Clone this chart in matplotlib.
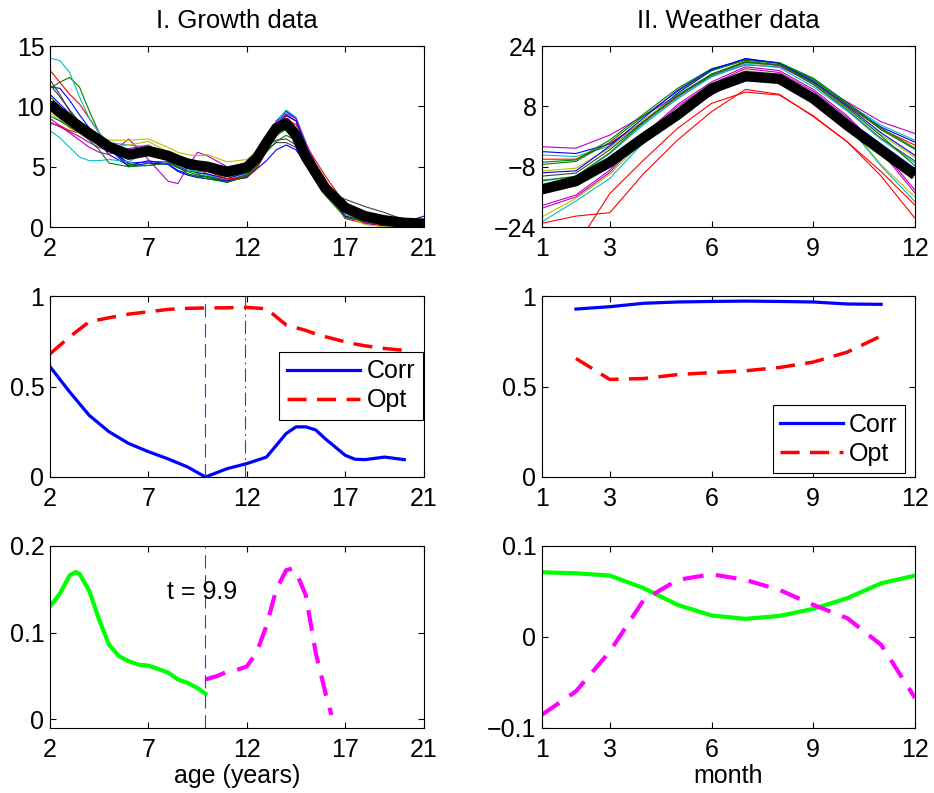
import matplotlib
matplotlib.use('Agg')
import matplotlib.pyplot as plt

plt.rcParams['font.family'] = ['Liberation Sans', 'DejaVu Sans']
plt.rcParams['font.size'] = 18

# ---------------- Growth data (velocity curves) ----------------
ages = [2, 2.5, 3, 3.5, 4, 4.5, 5, 6, 7, 8, 8.5, 9, 9.5, 10, 11, 12, 12.5, 13, 13.5, 14,
        14.5, 15, 15.5, 16, 17, 18, 19, 20, 21]
growth_mean = [10.2, 9.5, 8.9, 8.3, 7.75, 7.2, 6.65, 6.0, 6.3, 5.9, 5.55, 5.25, 5.1, 5.0, 4.55,
               4.95, 5.7, 7.0, 8.2, 8.6, 7.6, 5.8, 4.5, 3.2, 1.6, 0.9, 0.55, 0.35, 0.28]
growth_01 = [11.6, 11.5, 10.5, 9.3, 8.2, 7.0, 6.0, 5.1, 5.5, 5.2, 4.7, 4.4, 4.2, 4.2, 3.8, 4.2, 4.8, 5.5, 6.4, 6.8, 6.4, 5.2, 4.0, 2.8, 1.2, 0.6, 0.4, 0.4, 0.9]
growth_02 = [11.5, 12.0, 12.4, 11.6, 9.6, 7.8, 6.6, 5.2, 5.1, 5.3, 4.9, 4.6, 4.3, 4.2, 3.9, 4.3, 5.2, 6.2, 7.1, 7.6, 7.2, 5.6, 4.2, 2.8, 1.0, 0.5, 0.3, 0.2, 0.2]
growth_03 = [13.0, 12.0, 11.0, 10.2, 9.0, 7.8, 6.6, 6.2, 6.3, 6.0, 5.5, 5.3, 4.8, 4.4, 3.7, 4.3, 5.2, 6.6, 8.2, 9.2, 8.8, 6.8, 5.5, 4.2, 1.9, 1.0, 0.6, 0.4, 0.3]
growth_04 = [14.0, 13.8, 12.8, 10.8, 9.0, 7.8, 7.0, 6.8, 6.6, 5.8, 5.4, 5.0, 4.5, 4.3, 4.0, 4.6, 5.6, 7.0, 8.6, 9.6, 9.0, 6.8, 4.8, 3.0, 1.0, 0.4, 0.2, 0.1, 0.1]
growth_05 = [9.0, 8.4, 7.8, 7.2, 6.6, 6.2, 6.0, 7.3, 5.6, 3.8, 3.6, 5.0, 6.2, 5.9, 5.0, 4.6, 5.2, 6.4, 7.8, 8.6, 8.2, 6.5, 4.8, 3.4, 1.4, 0.6, 0.3, 0.2, 0.2]
growth_06 = [9.5, 8.8, 8.3, 8.0, 7.8, 7.5, 7.2, 7.2, 7.3, 6.6, 6.2, 6.0, 5.9, 6.0, 5.4, 5.6, 6.3, 7.2, 8.0, 8.0, 7.4, 5.8, 4.2, 2.8, 1.0, 0.4, 0.1, 0.0, 0.0]
growth_07 = [12.2, 11.0, 9.6, 8.5, 7.8, 7.2, 6.6, 6.2, 6.4, 5.9, 5.6, 5.5, 5.3, 5.2, 5.0, 5.3, 6.0, 6.8, 7.2, 7.3, 6.8, 5.4, 4.0, 3.0, 2.3, 1.7, 1.2, 0.6, 0.3]
growth_08 = [11.0, 10.2, 9.4, 8.6, 7.8, 7.0, 6.4, 5.3, 5.4, 5.4, 5.0, 4.7, 4.5, 4.4, 4.0, 4.5, 5.5, 7.0, 8.8, 9.6, 9.0, 6.9, 4.8, 3.0, 0.9, 0.3, 0.1, 0.0, 0.0]
growth_09 = [10.8, 10.0, 9.4, 8.8, 8.2, 7.4, 6.7, 6.3, 6.6, 5.7, 5.2, 4.9, 4.4, 4.1, 3.8, 4.4, 5.4, 6.8, 7.8, 8.1, 7.5, 5.6, 4.0, 2.6, 0.8, 0.4, 0.3, 0.3, 0.3]
growth_10 = [8.6, 8.4, 8.0, 7.8, 7.4, 7.0, 6.6, 6.1, 6.6, 6.0, 5.4, 5.1, 4.8, 4.6, 4.0, 4.1, 4.8, 6.3, 8.0, 8.9, 8.5, 6.4, 4.6, 3.2, 0.7, 0.3, 0.2, 0.2, 0.3]
growth_11 = [8.0, 7.4, 6.6, 5.8, 5.5, 5.5, 5.6, 5.4, 6.3, 5.7, 5.3, 4.7, 4.6, 4.6, 4.6, 4.9, 5.7, 7.1, 8.7, 9.7, 9.1, 7.0, 5.0, 3.3, 1.0, 0.6, 0.4, 0.3, 0.3]
growth_12 = [8.7, 8.3, 7.9, 7.5, 7.0, 6.6, 6.3, 6.5, 6.8, 5.8, 5.2, 4.9, 4.9, 5.0, 4.6, 5.0, 5.9, 7.2, 8.6, 9.4, 9.0, 7.0, 5.2, 3.6, 1.2, 0.4, 0.2, 0.3, 0.4]
growth_13 = [10.0, 9.0, 8.2, 7.8, 7.5, 7.0, 6.6, 6.8, 7.1, 6.2, 5.8, 5.5, 5.3, 5.1, 4.9, 5.2, 6.1, 7.3, 8.3, 8.8, 8.3, 6.2, 4.5, 3.0, 1.0, 0.2, 0.0, 0.0, 0.0]
growth_14 = [11.8, 10.8, 9.7, 8.7, 7.8, 7.0, 6.4, 6.0, 6.2, 5.9, 5.6, 5.4, 5.2, 5.1, 4.7, 4.9, 5.6, 6.4, 7.0, 7.0, 6.6, 5.2, 4.0, 2.8, 1.3, 0.9, 0.6, 0.3, 0.2]
growth_15 = [10.5, 9.8, 9.0, 8.4, 7.6, 7.0, 6.5, 5.0, 5.3, 5.2, 4.6, 4.3, 4.1, 4.0, 3.8, 4.1, 5.0, 6.7, 8.4, 9.3, 8.8, 6.7, 4.9, 3.2, 0.9, 0.5, 0.3, 0.2, 0.2]
growth_16 = [9.2, 8.8, 8.3, 7.8, 7.2, 6.4, 5.3, 5.0, 5.1, 5.3, 5.0, 4.4, 4.2, 4.0, 3.7, 4.2, 5.0, 6.4, 7.6, 8.1, 7.8, 5.8, 4.2, 2.8, 0.8, 0.5, 0.3, 0.2, 0.2]
growth_curves = [growth_01, growth_02, growth_03, growth_04, growth_05, growth_06, growth_07, growth_08,
                 growth_09, growth_10, growth_11, growth_12, growth_13, growth_14, growth_15, growth_16]

# ---------------- Weather data (monthly temperatures) ----------------
months = [1, 2, 3, 4, 5, 6, 7, 8, 9, 10, 11, 12]
weather_mean = [-14.0, -11.8, -6.8, -0.3, 5.8, 12.7, 16.0, 15.3, 10.1, 3.0, -3.6, -10.2]
weather_01 = [-2.7, -3.1, 0.4, 5.5, 11.0, 16.0, 19.0, 18.5, 14.5, 9.2, 3.9, 0.8]
weather_02 = [-4.0, -4.5, -2.0, 4.0, 11.5, 17.5, 20.7, 19.5, 15.0, 8.5, 2.5, -1.5]
weather_03 = [-4.9, -5.3, -2.5, 3.5, 10.0, 16.0, 19.5, 19.0, 14.8, 8.8, 3.0, -1.0]
weather_04 = [-6.0, -6.0, -1.8, 4.0, 10.5, 16.5, 19.8, 18.9, 14.5, 8.2, 2.0, -2.3]
weather_05 = [-6.8, -6.2, -0.9, 6.0, 12.8, 18.0, 20.4, 19.6, 15.5, 9.0, 2.2, -3.1]
weather_06 = [-7.4, -6.6, -1.5, 5.5, 12.0, 17.5, 20.2, 19.5, 15.2, 8.6, 1.8, -3.4]
weather_07 = [-9.1, -8.4, -3.0, 4.5, 11.0, 16.5, 19.6, 18.8, 14.0, 7.4, 0.5, -5.5]
weather_08 = [-9.6, -9.1, -2.5, 5.0, 12.3, 17.8, 20.6, 19.4, 14.6, 8.0, 1.0, -5.0]
weather_09 = [-10.5, -9.7, -3.5, 4.0, 10.8, 16.3, 19.7, 18.9, 13.8, 7.0, -0.5, -6.5]
weather_10 = [-11.5, -10.7, -4.5, 3.2, 10.2, 15.8, 19.2, 18.3, 13.2, 6.8, -0.8, -7.0]
weather_11 = [-11.8, -10.5, -4.3, 3.8, 11.0, 16.6, 19.9, 19.1, 14.2, 7.6, 0.2, -7.8]
weather_12 = [-14.8, -13.0, -6.0, 0.8, 5.7, 11.0, 16.0, 15.5, 11.0, 4.5, -2.0, -8.5]
weather_13 = [-18.3, -15.5, -8.9, 0.5, 8.5, 14.5, 18.5, 17.5, 12.5, 5.5, -3.5, -14.2]
weather_14 = [-19.0, -16.0, -9.5, 0.0, 8.0, 14.0, 18.0, 17.0, 12.0, 5.0, -4.0, -15.0]
weather_15 = [-21.3, -16.4, -10.0, -1.0, 7.5, 13.5, 17.5, 16.5, 11.0, 3.5, -7.5, -16.0]
weather_16 = [-22.6, -17.1, -11.1, -1.5, 7.0, 13.0, 17.0, 16.0, 10.5, 3.0, -7.8, -17.3]
weather_17 = [-23.0, -21.1, -20.2, -9.8, -0.9, 6.6, 12.5, 11.2, 5.3, -1.4, -9.3, -18.2]
weather_18 = [-30.0, -29.2, -15.1, -6.2, 2.2, 8.8, 11.8, 11.0, 5.5, -1.4, -10.5, -21.7]
weather_curves = [weather_01, weather_02, weather_03, weather_04, weather_05, weather_06,
                  weather_07, weather_08, weather_09, weather_10, weather_11, weather_12,
                  weather_13, weather_14, weather_15, weather_16, weather_17, weather_18]

# ---------------- Corr / Opt ----------------
ages_co = [2, 3, 4, 5, 6, 7, 8, 9, 9.9, 11, 12, 13, 14, 14.5, 15, 15.5, 16, 17, 17.5, 18, 19, 20]
growth_corr = [0.61, 0.47, 0.34, 0.25, 0.185, 0.14, 0.10, 0.055, 0.0, 0.046, 0.074, 0.11, 0.24,
               0.277, 0.277, 0.26, 0.21, 0.12, 0.098, 0.096, 0.11, 0.096]
growth_opt = [0.68, 0.775, 0.858, 0.88, 0.90, 0.913, 0.926, 0.932, 0.934, 0.935, 0.937, 0.93, 0.84,
              0.825, 0.81, 0.79, 0.775, 0.747, 0.735, 0.725, 0.71, 0.70]
months_co = [2, 3, 4, 5, 6, 7, 8, 9, 10, 11]
weather_corr = [0.928, 0.941, 0.96, 0.967, 0.97, 0.972, 0.97, 0.967, 0.956, 0.954]
weather_opt = [0.655, 0.539, 0.544, 0.566, 0.577, 0.587, 0.605, 0.635, 0.69, 0.779]
t_split = 9.9
t_opt = 11.9

# ---------------- Bottom panels ----------------
ages_before = [2, 2.5, 3, 3.3, 3.5, 4, 4.5, 5, 5.5, 6, 6.5, 7, 7.5, 8, 8.5, 9, 9.5, 9.9]
beta_before = [0.130, 0.145, 0.166, 0.170, 0.168, 0.148, 0.115, 0.086, 0.073, 0.067, 0.063, 0.062,
               0.058, 0.054, 0.046, 0.042, 0.036, 0.0295]
ages_after = [9.9, 10.5, 11, 11.5, 12, 12.5, 13, 13.5, 14, 14.3, 14.5, 15, 15.5, 16, 16.3]
beta_after = [0.046, 0.050, 0.055, 0.057, 0.061, 0.077, 0.108, 0.150, 0.172, 0.174, 0.170, 0.143,
              0.077, 0.030, 0.005]
weather_beta1 = [0.0711, 0.070, 0.0675, 0.0536, 0.0353, 0.0236, 0.0199, 0.0232, 0.0309, 0.0426, 0.059, 0.0675]
weather_beta2 = [-0.0854, -0.0598, -0.0159, 0.0408, 0.0627, 0.0689, 0.0627, 0.0517, 0.0353, 0.0207, -0.0086, -0.067]

mat_colors = [(0, 0, 1), (0, 0.5, 0), (1, 0, 0), (0, 0.75, 0.75), (0.75, 0, 0.75), (0.75, 0.75, 0), (0.25, 0.25, 0.25)]
weather_colors = [(0.75, 0, 0.75), (0, 0, 1), (0, 0.75, 0.75), (1, 0, 0), (0, 0.5, 0), (0, 0.5, 0),
                  (0.75, 0.75, 0), (0, 0, 1), (0.25, 0.25, 0.25), (0, 0.75, 0.75), (0, 0.5, 0), (0, 0, 1),
                  (0.75, 0, 0.75), (0.75, 0, 0.75), (0.75, 0.75, 0), (0, 0.75, 0.75), (1, 0, 0), (1, 0, 0)]

fig = plt.figure(figsize=(9.34, 7.93), dpi=100)
L = [0.0535, 0.4004]
R = [0.5803, 0.3994]
rows = [(0.7137, 0.2282), (0.3985, 0.2282), (0.082, 0.2295)]

axes = {}
for r, (b, h) in enumerate(rows):
    axes[(r, 0)] = fig.add_axes([L[0], b, L[1], h])
    axes[(r, 1)] = fig.add_axes([R[0], b, R[1], h])

for ax in axes.values():
    ax.tick_params(direction='in', length=4, width=0.8, top=True, right=True, labelsize=18)
    ax.tick_params(axis='x', pad=7)
    ax.tick_params(axis='y', pad=4)
    for s in ax.spines.values():
        s.set_linewidth(0.8)

vline_color = (0.2, 0.2, 1.0)

# Top-left
ax = axes[(0, 0)]
for i, c in enumerate(growth_curves):
    ax.plot(ages, c, color=mat_colors[i % 7], lw=0.8)
ax.plot(ages, growth_mean, color='black', lw=7.5, solid_capstyle='butt')
ax.set_xlim(2, 21); ax.set_ylim(0, 15)
ax.set_xticks([2, 7, 12, 17, 21]); ax.set_yticks([0, 5, 10, 15])
ax.set_title('I. Growth data', fontsize=18.5, pad=13)

# Top-right
ax = axes[(0, 1)]
for i, c in enumerate(weather_curves):
    ax.plot(months, c, color=weather_colors[i], lw=0.8)
ax.plot(months, weather_mean, color='black', lw=7.5, solid_capstyle='butt')
ax.set_xlim(1, 12); ax.set_ylim(-24, 24)
ax.set_xticks([1, 3, 6, 9, 12]); ax.set_yticks([-24, -8, 8, 24])
ax.set_title('II. Weather data', fontsize=18.5, pad=13)

# Middle-left
ax = axes[(1, 0)]
ax.plot(ages_co, growth_corr, color='blue', lw=2.3, label='Corr')
ax.plot(ages_co, growth_opt, color='red', lw=2.5, dashes=(5.5, 3), label='Opt')
ax.axvline(t_split, color=vline_color, lw=0.8, dashes=(12, 6))
ax.axvline(t_opt, color=vline_color, lw=0.8, dashes=(12, 4, 1.5, 4))
ax.set_xlim(2, 21); ax.set_ylim(0, 1)
ax.set_xticks([2, 7, 12, 17, 21]); ax.set_yticks([0, 0.5, 1]); ax.set_yticklabels(['0', '0.5', '1'])
leg = ax.legend(loc='lower right', bbox_to_anchor=(0.9965, 0.315), borderaxespad=0, fontsize=18,
                fancybox=False, framealpha=1, edgecolor='black', handlelength=2.95, handletextpad=0.25,
                labelspacing=0.2, borderpad=0.3)
leg.get_frame().set_linewidth(0.8)

# Middle-right
ax = axes[(1, 1)]
ax.plot(months_co, weather_corr, color='blue', lw=2.3, label='Corr')
ax.plot(months_co, weather_opt, color='red', lw=2.5, dashes=(5.5, 3), label='Opt')
ax.set_xlim(1, 12); ax.set_ylim(0, 1)
ax.set_xticks([1, 3, 6, 9, 12]); ax.set_yticks([0, 0.5, 1]); ax.set_yticklabels(['0', '0.5', '1'])
leg = ax.legend(loc='lower right', bbox_to_anchor=(0.973, 0.022), borderaxespad=0, fontsize=18,
                fancybox=False, framealpha=1, edgecolor='black', handlelength=2.5, handletextpad=0.25,
                labelspacing=0.2, borderpad=0.3)
leg.get_frame().set_linewidth(0.8)

# Bottom-left
ax = axes[(2, 0)]
ax.plot(ages_before, beta_before, color=(0, 1, 0), lw=3)
ax.plot(ages_after, beta_after, color=(1, 0, 1), lw=3, dashes=(5, 3))
ax.axvline(t_split, color=vline_color, lw=0.8, dashes=(12, 6))
ax.text(9.75, 0.147, 't = 9.9', ha='center', va='center', fontsize=18)
ax.set_xlim(2, 21); ax.set_ylim(-0.01, 0.2)
ax.set_xticks([2, 7, 12, 17, 21]); ax.set_yticks([0, 0.1, 0.2]); ax.set_yticklabels(['0', '0.1', '0.2'])
ax.set_xlabel('age (years)', fontsize=18, labelpad=2)

# Bottom-right
ax = axes[(2, 1)]
ax.plot(months, weather_beta1, color=(0, 1, 0), lw=3)
ax.plot(months, weather_beta2, color=(1, 0, 1), lw=3, dashes=(5, 3))
ax.set_xlim(1, 12); ax.set_ylim(-0.1, 0.1)
ax.set_xticks([1, 3, 6, 9, 12]); ax.set_yticks([-0.1, 0, 0.1]); ax.set_yticklabels(['\u22120.1', '0', '0.1'])
ax.set_xlabel('month', fontsize=18, labelpad=2)

fig.savefig('out.png', dpi=100)
